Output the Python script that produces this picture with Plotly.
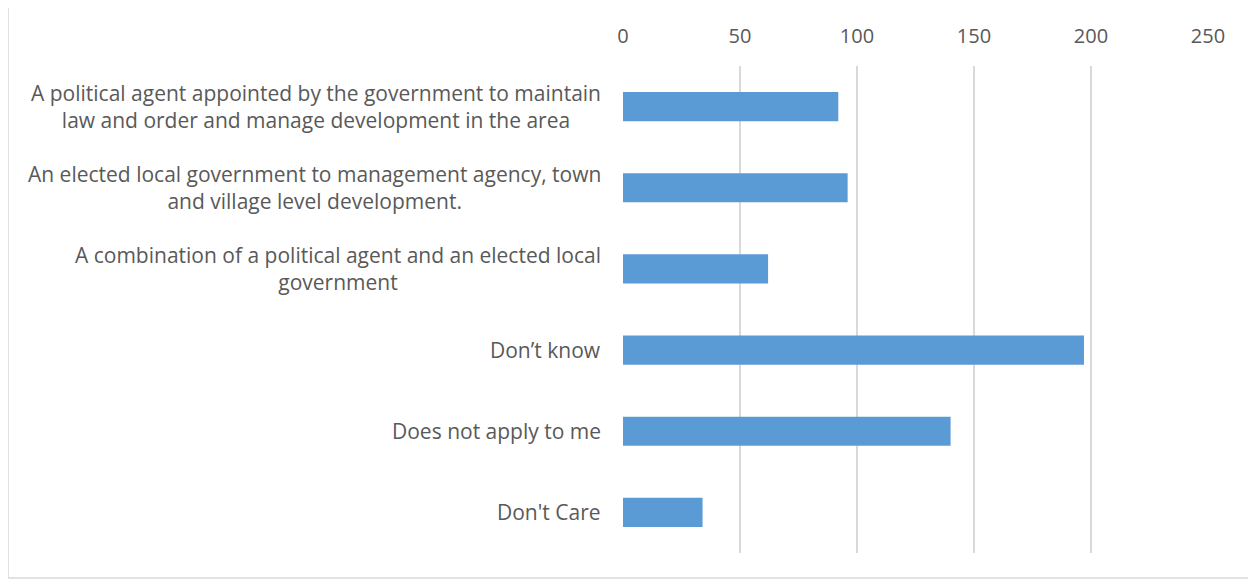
import plotly.graph_objects as go

categories = [
    "A political agent appointed by the government to maintain<br>law and order and manage development in the area",
    "An elected local government to management agency, town<br>and village level development.",
    "A combination of a political agent and an elected local<br>government",
    "Don\u2019t know",
    "Does not apply to me",
    "Don't Care",
]
values = [92, 96, 62, 197, 140, 34]
tick_vals = [0, 50, 100, 150, 200, 250]

# page body has an 8px margin; compensate
OFF = 8
W, H = 1256, 579
L, R, T, B = 623 - OFF, 1208 - OFF, 66 - OFF, 553 - OFF

fig = go.Figure(go.Bar(
    x=values, y=categories, orientation="h",
    marker=dict(color="#5B9BD5", line=dict(width=0)),
    width=0.36,
))

fx = lambda px: (px - OFF - L) / (R - L)
fy = lambda py: (B - (py - OFF)) / (B - T)

for c in categories:
    fig.add_annotation(
        x=0, xref="paper", y=c, yref="y", text=c, showarrow=False,
        xanchor="right", yanchor="middle", align="center", xshift=-20,
        font=dict(family="Open Sans, Noto Sans, sans-serif", size=21, color="#595959"),
    )

fig.update_layout(
    width=W, height=H,
    margin=dict(l=L, r=W - R, t=T, b=H - B, pad=0),
    paper_bgcolor="white", plot_bgcolor="white",
    font=dict(family="Open Sans, Noto Sans, sans-serif", size=20, color="#595959"),
    showlegend=False,
    xaxis=dict(
        side="top", range=[0, 250], tickvals=tick_vals,
        showgrid=True, gridcolor="#D9D9D9", gridwidth=1.5,
        zeroline=False, showline=False, ticks="",
        tickfont=dict(size=20, color="#595959"),
        ticklabelstandoff=18,
    ),
    yaxis=dict(
        autorange="reversed", showgrid=False, zeroline=False,
        showline=False, ticks="", showticklabels=False,
    ),
    shapes=[dict(
        type="rect", xref="paper", yref="paper",
        x0=fx(8), x1=fx(1250), y0=fy(578), y1=fy(5),
        line=dict(color="#D9D9D9", width=1.5), fillcolor="rgba(0,0,0,0)",
        layer="below",
    )],
)

fig.write_html("out.html")
